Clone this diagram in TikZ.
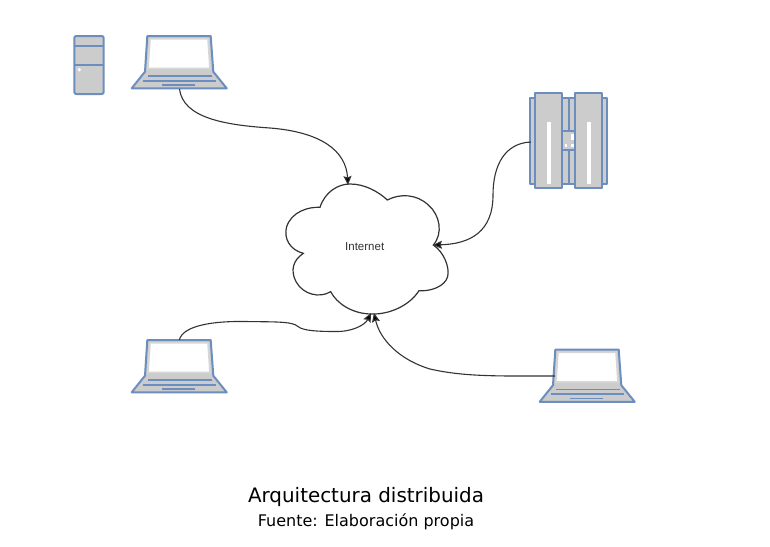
\documentclass[tikz,border=0pt]{standalone}
\usepackage{fontspec}
\setmainfont{DejaVu Sans}
\newfontfamily\labelfont{Liberation Sans}
\usetikzlibrary{arrows.meta}
\definecolor{devblue}{HTML}{6C8EBF}
\definecolor{devgray}{HTML}{CCCCCC}
\definecolor{scrgray}{HTML}{D6D6D6}
\definecolor{linkgray}{HTML}{333333}
\tikzset{
  device/.style={draw=devblue,fill=devgray,line width=2pt,line join=round},
  devline/.style={draw=devblue,line width=1.9pt},
  glint/.style={fill=white,draw=none},
  cloudline/.style={draw=linkgray,fill=white,line width=1.2pt},
  link/.style={draw=linkgray,line width=1.1pt,-{Stealth[length=9pt,width=8pt,inset=1.5pt,fill=black]}},
  laptop/.pic={
    \path[device] (147.3,36) -- (210.7,36) -- (213.3,71.7) -- (226.7,88.3) -- (131.7,88.3) -- (145,71.7) -- cycle;
    \path[fill=white,draw=scrgray,line width=1.8pt] (149.9,38.8) -- (208.1,38.8) -- (210.1,68.4) -- (147.9,68.4) -- cycle;
    \draw[devline] (148.3,76) -- (211.7,76);
    \draw[devline] (143.3,80.7) -- (216,80.7);
    \draw[devline] (162.3,85) -- (195,85);
  }
}
\begin{document}
\begin{tikzpicture}[x=1pt,y=-1pt]
\useasboundingbox (0,0) rectangle (770,546);
% tower
\path[device,rounded corners=2pt] (74.3,36) rectangle (103.7,94);
\draw[devline] (74.3,45.7) -- (103.7,45.7);
\draw[devline] (74.3,64.7) -- (103.7,64.7);
\fill[glint] (79.3,69.7) circle (1.8pt);
% laptops
\pic at (0,0) {laptop};
\pic at (0,304) {laptop};
\pic at (408,313.5) {laptop};
% rack
\path[device] (530.3,97.7) rectangle (607.3,183.7);
\draw[devline] (568.7,97.7) -- (568.7,183.7);
\path[fill=devgray] (563.5,132) rectangle (574,149.5);
\draw[devline] (562.3,131) -- (575,131);
\draw[devline] (562.3,150.3) -- (575,150.3);
\path[device] (535.3,93.3) rectangle (562.3,188.3);
\path[device] (575,93.3) rectangle (602.3,188.3);
\fill[glint] (547,121.7) rectangle (551,183.7);
\fill[glint] (587,121.7) rectangle (591,183.7);
\fill[glint] (571,134) rectangle (574,139.5);
\fill[glint] (564.5,144) rectangle (567,146.5);
\fill[glint] (571,144) rectangle (574,146.5);
% cloud
\begin{scope}[shift={(270,170)},x=0.3333pt,y=-0.3333pt]
\path[cloudline] (150,112)
  .. controls (165,65) and (205,42) .. (240,42)
  .. controls (285,42) and (325,65) .. (352,90)
  .. controls (390,70) and (440,72) .. (475,105)
  .. controls (510,135) and (520,190) .. (490,225)
  .. controls (520,245) and (540,290) .. (533,320)
  .. controls (525,350) and (480,365) .. (447,362)
  .. controls (420,405) and (360,435) .. (300,432)
  .. controls (245,430) and (200,400) .. (182,365)
  .. controls (150,385) and (100,375) .. (78,335)
  .. controls (60,300) and (70,270) .. (100,250)
  .. controls (60,240) and (40,205) .. (50,170)
  .. controls (65,125) and (115,110) .. (150,112) -- cycle;
\end{scope}
\node[font=\labelfont\fontsize{11.5}{13}\selectfont,text=linkgray,inner sep=0pt] (net) at (364.7,246.5) {Internet};
% connection points
\coordinate (lapAout) at (179.5,89);
\coordinate (lapBout) at (179.3,340);
\coordinate (lapCout) at (555,376);
\coordinate (rackout) at (531,142);
\coordinate (cloudtop) at (348,185);
\coordinate (cloudright) at (433,245);
\coordinate (cloudbotA) at (371,313);
\coordinate (cloudbotB) at (374,313);
\coordinate (bendA) at (298,326.5);
% connectors
\draw[link] (lapAout) .. controls (183,118) and (225,125) .. (270,128) .. controls (320,132) and (346,150) .. (cloudtop);
\draw[link] (rackout) .. controls (505,143) and (493,165) .. (493,195) .. controls (493,232) and (470,244) .. (cloudright);
\draw[link] (lapBout) .. controls (183,325) and (215,321) .. (245,321.5) .. controls (270,322) and (293,321) .. (bendA) .. controls (303,331) and (320,331.5) .. (335,331.5) .. controls (352,332) and (365,325) .. (cloudbotA);
\draw[link] (lapCout) .. controls (500,376) and (465,377) .. (430,369) .. controls (400,360) and (380,340) .. (cloudbotB);
% captions
\node[font=\fontsize{19.9}{23}\selectfont,text=black,inner sep=0pt] (title) at (366,497) {Arquitectura distribuida};
\node[font=\fontsize{16}{19}\selectfont,text=black,inner sep=0pt] (source) at (366,522) {Fuente: Elaboración propia};
\end{tikzpicture}
\end{document}
